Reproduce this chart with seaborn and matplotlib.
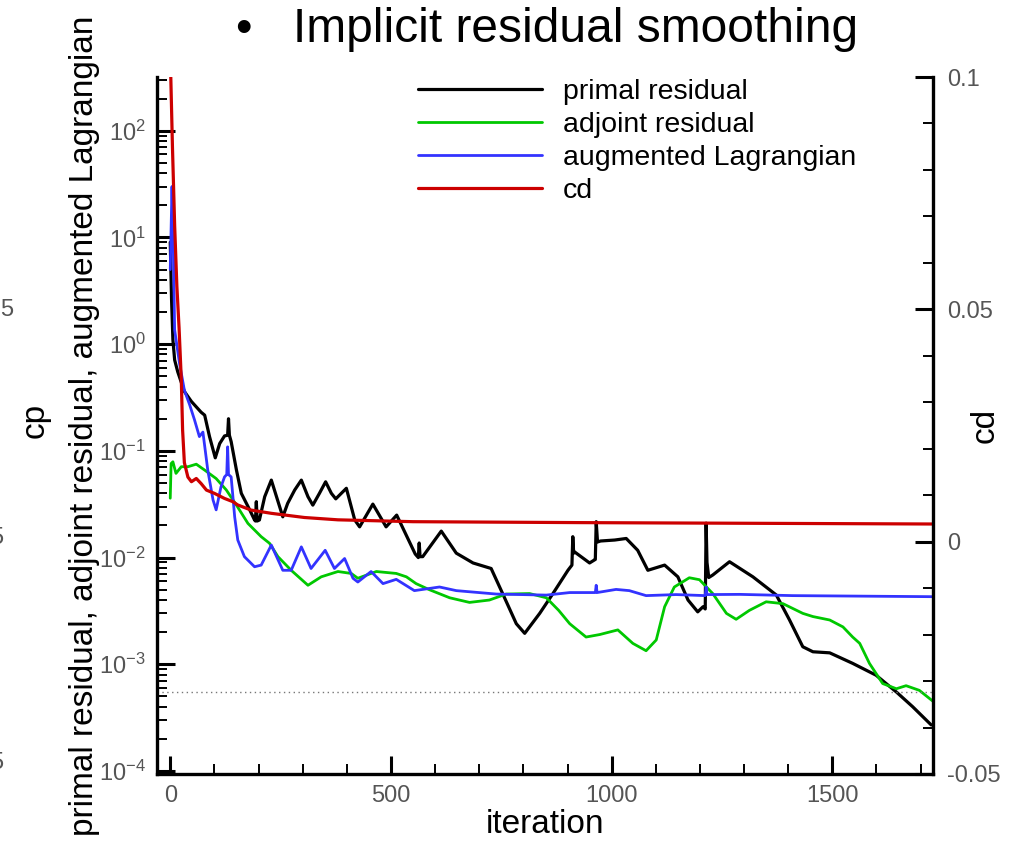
import numpy as np
import pandas as pd
import matplotlib
matplotlib.use("Agg")
import matplotlib.pyplot as plt
import seaborn as sns
from matplotlib.ticker import (MultipleLocator, LogLocator, LogFormatterSciNotation,
                               NullFormatter, FixedLocator, FixedFormatter)

# ---------------- data ----------------
primal_it = [0, 3, 6, 10, 17, 32, 48, 70, 78, 89, 102, 112, 123, 130, 132, 134, 138, 150, 161,
             180, 191, 193, 195, 197, 202, 214, 229, 255, 266, 282, 297, 312, 323, 338, 352, 365,
             375, 399, 418, 429, 459, 489, 513, 555, 562, 564, 566, 572, 614, 648, 686, 727, 753,
             784, 803, 837, 867, 901, 910, 912, 914, 916, 950, 961, 963, 965, 968, 975, 1007,
             1033, 1059, 1082, 1120, 1150, 1173, 1195, 1207, 1212, 1214, 1216, 1220, 1229, 1267,
             1320, 1373, 1403, 1433, 1456, 1494, 1546, 1599, 1645, 1682, 1724]
primal_val = [9, 2.6, 1.1, 0.71, 0.55, 0.36, 0.29, 0.23, 0.216, 0.136, 0.086, 0.117, 0.138, 0.14,
              0.2, 0.14, 0.122, 0.066, 0.040, 0.028, 0.0225, 0.022, 0.0334, 0.022, 0.0225, 0.0372,
              0.0532, 0.0241, 0.0322, 0.043, 0.0532, 0.0372, 0.031, 0.040, 0.0513, 0.040, 0.0355,
              0.0446, 0.0225, 0.0194, 0.0317, 0.0194, 0.025, 0.0108, 0.0100, 0.0137, 0.0102,
              0.0102, 0.0177, 0.011, 0.0089, 0.0079, 0.0046, 0.0024, 0.00195, 0.0030, 0.0046,
              0.0076, 0.0085, 0.0157, 0.011, 0.0113, 0.0089, 0.0095, 0.0096, 0.0217, 0.014,
              0.0143, 0.0146, 0.0151, 0.0117, 0.0076, 0.0085, 0.0066, 0.0040, 0.0031, 0.00346,
              0.0033, 0.021, 0.009, 0.0065, 0.00686, 0.00914, 0.0066, 0.00446, 0.0026, 0.00146,
              0.00131, 0.00128, 0.00102, 0.00079, 0.00055, 0.0004, 0.00027]

adjoint_it = [0, 2, 6, 13, 25, 40, 59, 78, 104, 127, 150, 176, 206, 225, 244, 274, 312, 342, 380,
              410, 425, 467, 512, 535, 557, 587, 633, 678, 723, 761, 814, 852, 880, 905, 942, 973,
              1014, 1048, 1078, 1101, 1120, 1142, 1176, 1199, 1229, 1260, 1282, 1312, 1350, 1388,
              1433, 1456, 1494, 1524, 1546, 1562, 1584, 1614, 1645, 1667, 1697, 1728]
adjoint_val = [0.036, 0.076, 0.079, 0.0615, 0.071, 0.071, 0.075, 0.066, 0.055, 0.043, 0.031,
               0.0209, 0.0157, 0.0136, 0.0102, 0.0076, 0.0055, 0.0066, 0.0074, 0.0071, 0.0064,
               0.0074, 0.0071, 0.0066, 0.0057, 0.005, 0.0042, 0.0038, 0.004, 0.00455, 0.0046,
               0.0042, 0.0032, 0.0024, 0.0018, 0.0019, 0.0021, 0.00157, 0.00134, 0.00169, 0.00346,
               0.0053, 0.00647, 0.0062, 0.0046, 0.003, 0.00264, 0.0032, 0.00385, 0.0037, 0.003,
               0.0028, 0.0026, 0.00224, 0.0018, 0.00157, 0.00102, 0.00066, 0.00059, 0.00063,
               0.00057, 0.00045]

auglag_it = [0, 4, 7, 10, 21, 32, 44, 55, 66, 74, 85, 97, 104, 115, 123, 128, 130, 132, 138, 146,
             153, 168, 191, 206, 229, 255, 274, 297, 319, 351, 372, 395, 414, 425, 455, 482, 512,
             553, 610, 648, 739, 852, 905, 927, 963, 965, 967, 1010, 1040, 1078, 1146, 1212, 1214,
             1216, 1290, 1410, 1728]
auglag_val = [5, 30, 8, 1.36, 0.66, 0.37, 0.27, 0.195, 0.136, 0.15, 0.066, 0.0346, 0.028, 0.046,
              0.057, 0.06, 0.109, 0.06, 0.057, 0.024, 0.0146, 0.0102, 0.0082, 0.0085, 0.0131,
              0.0076, 0.0076, 0.0126, 0.0079, 0.0117, 0.0079, 0.0098, 0.0064, 0.0059, 0.0074,
              0.0057, 0.00625, 0.0049, 0.0053, 0.0049, 0.00455, 0.00445, 0.0047, 0.0047, 0.0047,
              0.0055, 0.0047, 0.00503, 0.0049, 0.0044, 0.0045, 0.0044, 0.0053, 0.0045, 0.00452,
              0.0044, 0.0043]

cd_it = [0, 5, 10, 15, 20, 25, 28, 32, 40, 48, 59, 70, 82, 100, 123, 142, 153, 183, 229, 304,
         380, 550, 927, 1728]
cd_val = [0.105, 0.085, 0.068, 0.055, 0.046, 0.035, 0.024, 0.017, 0.0139, 0.0129, 0.0136, 0.0125,
          0.0111, 0.0104, 0.0093, 0.0086, 0.0079, 0.0068, 0.0061, 0.0052, 0.0047, 0.0043, 0.0041,
          0.0038]

ref_level = 5.5e-4

x_ticks = [0, 500, 1000, 1500]
x_ticklabels = ["0", "500", "1000", "1500"]
cd_ticks = [-0.05, 0, 0.05, 0.1]
cd_ticklabels = ["-0.05", "0", "0.05", "0.1"]

# ---------------- style ----------------
sns.set_style("ticks")
plt.rcParams["font.family"] = ["Liberation Sans", "DejaVu Sans"]
plt.rcParams["mathtext.fontset"] = "custom"
plt.rcParams["mathtext.rm"] = "Liberation Sans"
plt.rcParams["mathtext.it"] = "Liberation Sans:italic"
plt.rcParams["mathtext.bf"] = "Liberation Sans:bold"
for k in ("text.color", "axes.labelcolor", "axes.edgecolor", "xtick.color", "ytick.color"):
    plt.rcParams[k] = "black"

W, H = 1030, 849
fig = plt.figure(figsize=(W / 100, H / 100), dpi=100)
L, R, T, B = 157, 933, 77, 774
ax = fig.add_axes([L / W, 1 - B / H, (R - L) / W, (B - T) / H])
ax2 = ax.twinx()

col_black, col_green, col_blue, col_red = "#000000", "#00c800", "#3333ff", "#cc0000"

sns.lineplot(data=pd.DataFrame({"it": primal_it, "v": primal_val}), x="it", y="v", ax=ax,
             color=col_black, lw=2.3, estimator=None, sort=False, label="primal residual")
sns.lineplot(data=pd.DataFrame({"it": adjoint_it, "v": adjoint_val}), x="it", y="v", ax=ax,
             color=col_green, lw=2.0, estimator=None, sort=False, label="adjoint residual")
sns.lineplot(data=pd.DataFrame({"it": auglag_it, "v": auglag_val}), x="it", y="v", ax=ax,
             color=col_blue, lw=2.0, estimator=None, sort=False, label="augmented Lagrangian")
sns.lineplot(data=pd.DataFrame({"it": cd_it, "v": cd_val}), x="it", y="v", ax=ax2,
             color=col_red, lw=2.3, estimator=None, sort=False, label="cd")
ax.axhline(ref_level, color="#777777", ls=(0, (1, 2.5)), lw=1.0)

h1, l1 = ax.get_legend_handles_labels()
h2, l2 = ax2.get_legend_handles_labels()
for a in (ax, ax2):
    if a.get_legend() is not None:
        a.get_legend().remove()

ax.set_yscale("log")
ax.set_xlim(-30, 1728)
ax.set_ylim(10 ** (-4 - 3 / 106.7), 10 ** (2 + 53.7 / 106.7))
ax2.set_ylim(-0.05, 0.1)

# ticks
ax.xaxis.set_major_locator(FixedLocator(x_ticks))
ax.xaxis.set_major_formatter(FixedFormatter(x_ticklabels))
ax.xaxis.set_minor_locator(MultipleLocator(100))
ax.yaxis.set_major_locator(LogLocator(base=10, numticks=20))
ax.yaxis.set_minor_locator(LogLocator(base=10, subs=np.arange(2, 10), numticks=100))
ax.yaxis.set_major_formatter(LogFormatterSciNotation())
ax.yaxis.set_minor_formatter(NullFormatter())
ax2.yaxis.set_major_locator(FixedLocator(cd_ticks))
ax2.yaxis.set_major_formatter(FixedFormatter(cd_ticklabels))
ax2.yaxis.set_minor_locator(MultipleLocator(0.01))

lab_col = "#555555"
ax.tick_params(axis="both", which="major", direction="in", length=13, width=2.2,
               labelsize=17, labelcolor=lab_col, pad=8, top=False, right=False, color="black")
ax.tick_params(axis="both", which="minor", direction="in", length=7, width=1.4,
               top=False, right=False, color="black")
ax2.tick_params(axis="y", which="major", direction="in", length=13, width=2.2,
                labelsize=17, labelcolor=lab_col, pad=10, color="black")
ax2.tick_params(axis="y", which="minor", direction="in", length=7, width=1.4, color="black")

for s in ("top", "right"):
    ax.spines[s].set_visible(False)
for s in ("top", "left", "bottom"):
    ax2.spines[s].set_visible(False)
for s in ("left", "bottom"):
    ax.spines[s].set_linewidth(2.4)
    ax.spines[s].set_color("black")
ax2.spines["right"].set_linewidth(2.4)
ax2.spines["right"].set_color("black")

# labels
ax.set_xlabel("iteration", fontsize=24, color="black")
ax.xaxis.set_label_coords(0.5, -0.05)
ax.set_ylabel("primal residual, adjoint residual, augmented Lagrangian", fontsize=24,
              va="center", color="black")
ax.yaxis.set_label_coords(-0.093, 0.5)
ax2.set_ylabel("cd", fontsize=24, va="center", rotation=90, color="black")
ax2.yaxis.set_label_coords(1.067, 0.5)

fig.text(35 / W, 1 - 420 / H, "cp", fontsize=24, rotation=90, ha="center", va="center",
         color="black")
for yy, xx in ((310, 13), (538, 3), (763, 3)):
    fig.text(xx / W, 1 - yy / H, "5", fontsize=17, color=lab_col, ha="right", va="center")

# title
fig.text(243 / W, 1 - 30 / H, "\u2022", fontsize=34, ha="center", va="center", color="black")
fig.text(293 / W, 1 - 30 / H, "Implicit residual smoothing", fontsize=34.5, ha="left",
         va="center", color="black")

# legend
leg = fig.legend(h1 + h2, l1 + l2, loc="upper left", bbox_to_anchor=(418 / W, 1 - 79 / H),
                 frameon=False, fontsize=20.5, handlelength=4.35, handletextpad=0.75,
                 labelspacing=0.25, borderpad=0, borderaxespad=0)
for t in leg.get_texts():
    t.set_color("black")

fig.savefig("out.png", dpi=100)
